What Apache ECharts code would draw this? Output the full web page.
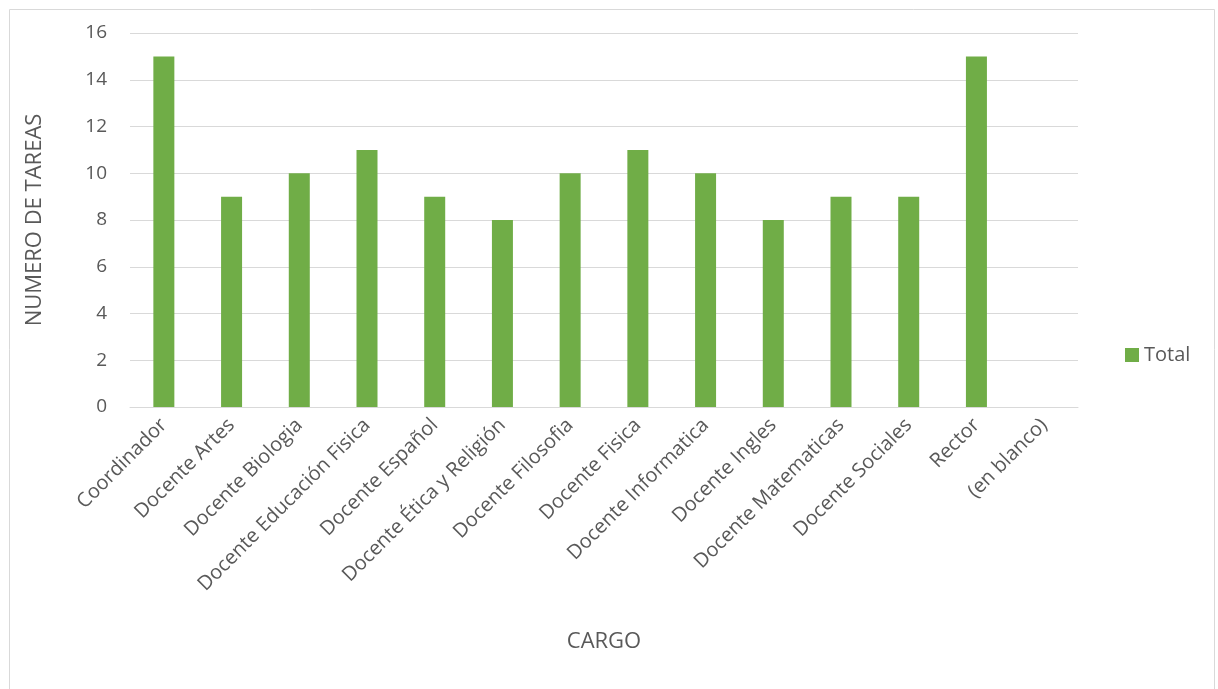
<!DOCTYPE html>
<html><head><meta charset="utf-8">
<script src="https://cdn.jsdelivr.net/npm/echarts@6/dist/echarts.min.js"></script>
<style>html,body{margin:0;padding:0;background:#fff;}#c{width:1218px;height:689px;}</style>
</head><body><div id="c"></div>
<script>
const categories = ["Coordinador","Docente Artes","Docente Biologia","Docente Educación Fisica","Docente Español","Docente Ética y Religión","Docente Filosofia","Docente Fisica","Docente Informatica","Docente Ingles","Docente Matematicas","Docente Sociales","Rector","(en blanco)"];
const totals = [15,9,10,11,9,8,10,11,10,8,9,9,15,null];
const yTicks = [0,2,4,6,8,10,12,14,16];

const font = "'Open Sans', 'Liberation Sans', sans-serif";
const chart = echarts.init(document.getElementById('c'), null, {renderer:'canvas'});
chart.setOption({
  animation:false,
  textStyle:{fontFamily:font},
  graphic:[{type:'rect',shape:{x:9.5,y:9.5,width:1205,height:700},style:{fill:'none',stroke:'#d9d9d9',lineWidth:1},silent:true}],
  legend:{
    data:['Total'], orient:'vertical', left:1120, top:340,
    itemWidth:14, itemHeight:14, icon:'rect', itemGap:5,
    textStyle:{color:'#595959',fontSize:20,fontFamily:font}
  },
  grid:{left:130,right:140,top:33,bottom:282,containLabel:false},
  xAxis:{
    type:'category', data:categories, name:'CARGO', nameLocation:'middle', nameGap:224,
    nameTextStyle:{color:'#595959',fontSize:22,fontFamily:font},
    axisLine:{show:true,lineStyle:{color:'#d9d9d9',width:1}},
    axisTick:{show:false},
    axisLabel:{rotate:45,interval:0,color:'#595959',fontSize:20,fontFamily:font,margin:15}
  },
  yAxis:{
    type:'value', min:yTicks[0], max:yTicks[yTicks.length-1], interval:2,
    name:'NUMERO DE TAREAS', nameLocation:'middle', nameGap:84, nameRotate:90,
    nameTextStyle:{color:'#595959',fontSize:22,fontFamily:font},
    axisLine:{show:false}, axisTick:{show:false},
    axisLabel:{color:'#595959',fontSize:19,fontFamily:font,margin:23},
    splitLine:{lineStyle:{color:'#d9d9d9',width:1}}
  },
  series:[{name:'Total',type:'bar',data:totals,barWidth:21,itemStyle:{color:'#70ad47'}}]
});
</script></body></html>
